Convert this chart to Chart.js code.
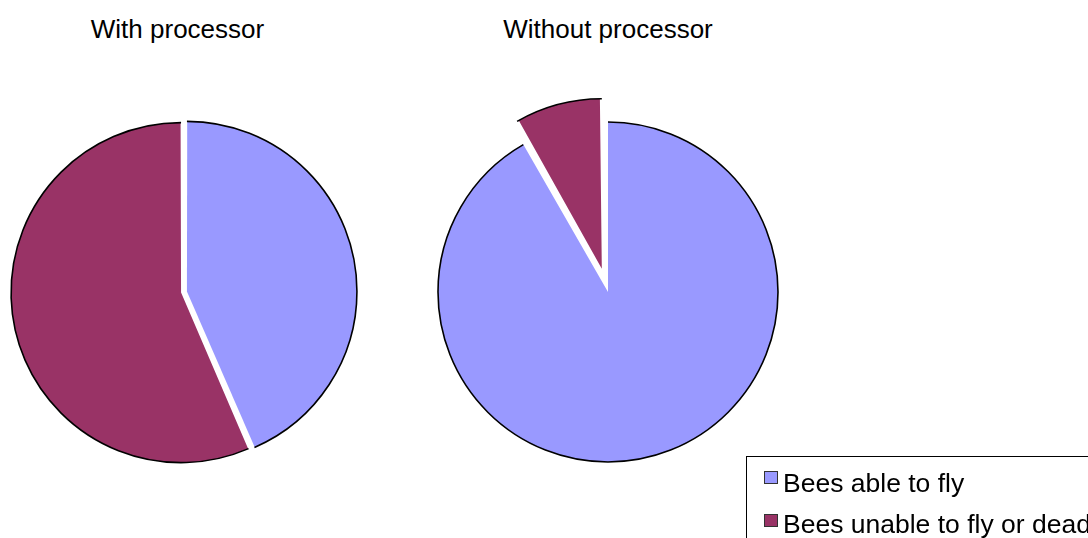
<!DOCTYPE html>
<html>
<head>
<meta charset="utf-8">
<script src="https://cdn.jsdelivr.net/npm/chart.js@4.4.1/dist/chart.umd.min.js"></script>
<style>
  html, body { margin: 0; padding: 0; width: 1088px; height: 538px; overflow: hidden; background: #fff; }
  body { position: relative; font-family: "Liberation Sans", Arial, sans-serif; color: #000; }
  canvas { position: absolute; }
  .title { position: absolute; width: 400px; text-align: center; font-size: 26px; line-height: 30px; top: 14px; white-space: nowrap; }
  #legend { position: absolute; left: 746px; top: 456px; width: 420px; height: 120px; border: 1px solid #000; box-sizing: border-box; }
  .item { position: absolute; left: 36px; font-size: 26.5px; line-height: 30px; white-space: nowrap; }
  .swatch { position: absolute; left: 17px; width: 12px; height: 11px; border: 1px solid #333; }
</style>
</head>
<body>
<canvas id="pieWith" width="420" height="420" style="left:-26px;top:82px"></canvas>
<canvas id="pieWithout" width="420" height="420" style="left:398px;top:82px"></canvas>
<div id="legend"></div>
<script>
// Slice categories (shared by both pies)
const categories = ['Bees able to fly', 'Bees unable to fly or dead'];
// Pie titles
const pieTitles = ['With processor', 'Without processor'];
// Share of bees (%) in each category
const withProcessor = [43.5, 56.5];
const withoutProcessor = [91.7, 8.3];

// Styling
const sliceColors = ['#9999FF', '#993366'];
const pieRadius = 170;
// How far each slice is pulled out of its pie, in pixels
const explodeWith = [3, 3];
const explodeWithout = [0, 24];
const titleCenters = [177.5, 608];

// Chart.js moves an arc by offset/4 and grows it a little; keep pulled
// slices at the pie radius and stroke only their outer rim.
function arcShift(arc) {
  const shift = (arc.options.offset || 0) / 4;
  const fix = 1 - Math.sin(Math.min(Math.PI, arc.circumference));
  return { shift, grow: shift * fix };
}

const rimPlugin = {
  id: 'rim',
  afterDatasetUpdate(chart, args) {
    args.meta.data.forEach(arc => {
      arc.outerRadius -= arcShift(arc).grow;
    });
  },
  afterDatasetsDraw(chart) {
    const ctx = chart.ctx;
    chart.getDatasetMeta(0).data.forEach(arc => {
      const { shift, grow } = arcShift(arc);
      const mid = (arc.startAngle + arc.endAngle) / 2;
      ctx.save();
      ctx.translate(Math.cos(mid) * shift, Math.sin(mid) * shift);
      ctx.beginPath();
      ctx.arc(arc.x, arc.y, arc.outerRadius + grow, arc.startAngle, arc.endAngle);
      ctx.lineWidth = 1.6;
      ctx.strokeStyle = '#000';
      ctx.stroke();
      ctx.restore();
    });
  }
};

function makePie(id, values, explode) {
  return new Chart(document.getElementById(id), {
    type: 'pie',
    data: {
      labels: categories,
      datasets: [{
        data: values,
        backgroundColor: sliceColors,
        borderWidth: 0,
        radius: pieRadius,
        offset: explode.map(d => d * 4),
        hoverOffset: 0
      }]
    },
    options: {
      responsive: false,
      animation: false,
      events: [],
      layout: { padding: 0 },
      plugins: { legend: { display: false }, tooltip: { enabled: false }, title: { display: false } }
    },
    plugins: [rimPlugin]
  });
}

makePie('pieWith', withProcessor, explodeWith);
makePie('pieWithout', withoutProcessor, explodeWithout);

// Titles
pieTitles.forEach((t, i) => {
  const d = document.createElement('div');
  d.className = 'title';
  d.style.left = (titleCenters[i] - 200) + 'px';
  d.textContent = t;
  document.body.appendChild(d);
});

// Legend
const legend = document.getElementById('legend');
categories.forEach((c, i) => {
  const sw = document.createElement('div');
  sw.className = 'swatch';
  sw.style.top = (14 + i * 43) + 'px';
  sw.style.background = sliceColors[i];
  legend.appendChild(sw);
  const it = document.createElement('div');
  it.className = 'item';
  it.style.top = (11 + i * 41) + 'px';
  it.textContent = c;
  legend.appendChild(it);
});
</script>
</body>
</html>
